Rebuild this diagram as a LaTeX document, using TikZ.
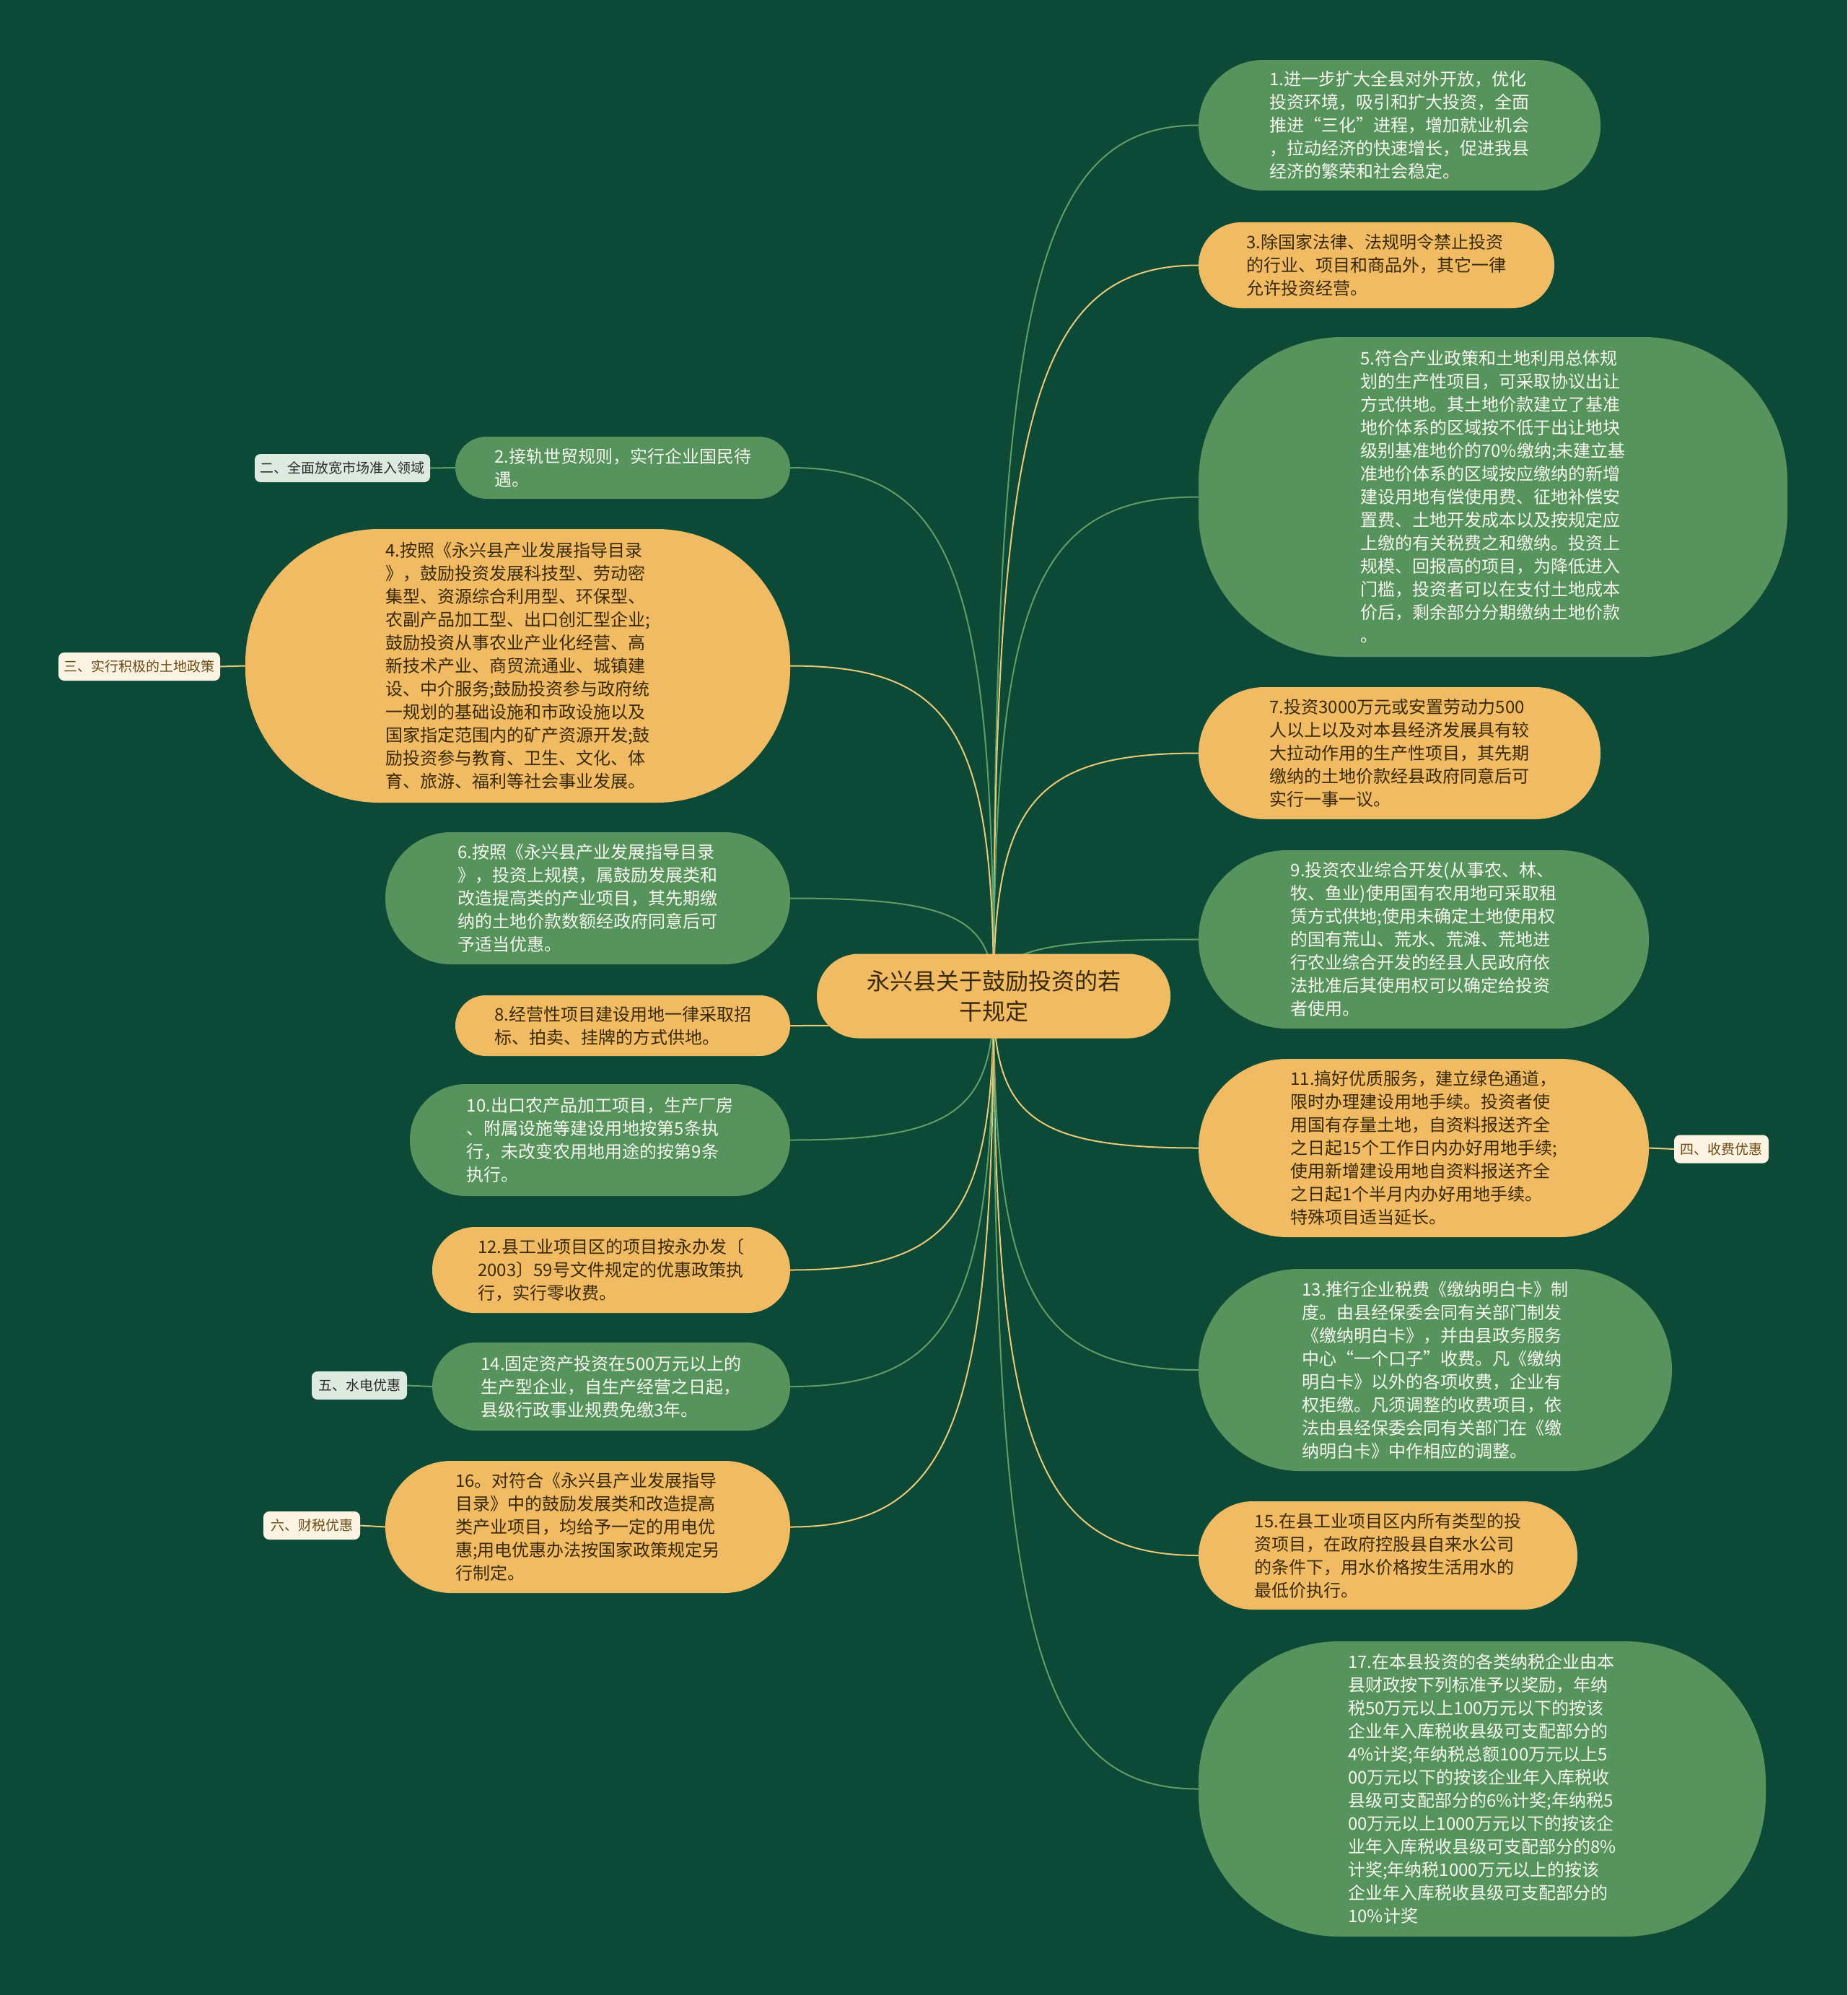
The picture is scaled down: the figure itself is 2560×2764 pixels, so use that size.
\documentclass[tikz,border=0pt]{standalone}
\usepackage{fontspec}
\setmainfont{Noto Sans CJK SC}
\usetikzlibrary{calc}
\definecolor{cbg}{HTML}{0C4A37}
\definecolor{cgreen}{HTML}{56935D}
\definecolor{cyellow}{HTML}{F0BB62}
\definecolor{gtext}{HTML}{F6F6EE}
\definecolor{ytext}{HTML}{3A2A0C}
\definecolor{glinec}{HTML}{5E9E67}
\definecolor{ylinec}{HTML}{E9C878}
\definecolor{lcream}{HTML}{FCF4E3}
\definecolor{lgreen}{HTML}{DCEAE0}
\definecolor{lbrown}{HTML}{6B4A16}
\definecolor{ldark}{HTML}{2A2A2A}
\pgfdeclarelayer{bg}
\pgfdeclarelayer{edges}
\pgfsetlayers{bg,edges,main}
\tikzset{
  bub/.style n args={3}{minimum width=#1pt, minimum height=#2pt, rounded corners=#3pt},
  gnode/.style={fill=cgreen, text=gtext, align=left, inner sep=0pt, font=\fontsize{24}{32}\selectfont},
  ynode/.style={fill=cyellow, text=ytext, align=left, inner sep=0pt, font=\fontsize{24}{32}\selectfont},
  rootnode/.style={fill=cyellow, text=ytext, align=center, inner sep=0pt, font=\fontsize{32}{42}\selectfont, minimum width=490pt, minimum height=117pt, rounded corners=58pt},
  clabel/.style={fill=lcream, text=lbrown, inner sep=0pt, font=\fontsize{19}{24}\selectfont, rounded corners=8pt, minimum height=39pt},
  glabel/.style={fill=lgreen, text=ldark, inner sep=0pt, font=\fontsize{19}{24}\selectfont, rounded corners=8pt, minimum height=39pt},
  gline/.style={draw=glinec, line width=2pt},
  yline/.style={draw=ylinec, line width=2pt},
}
\newcommand\mmconn[3]{\draw[#1] (root.center) .. controls ($(root.center)!0.8!(root.center |- #2.#3)$) and ($(root.center |- #2.#3)!0.2!(#2.#3)$) .. (#2.#3);}
\begin{document}
\begin{tikzpicture}[x=1pt,y=-1pt]
\begin{pgfonlayer}{bg}
\fill[cbg] (0,0) rectangle (2560,2764);
\end{pgfonlayer}
\useasboundingbox (0,0) rectangle (2560,2764);

% root
\node[rootnode] (root) at (1377,1380) {永兴县关于鼓励投资的若\\干规定};

% right side
\node[gnode, bub={557}{181}{90}] (n1) at (1939.5,173.5) {1.进一步扩大全县对外开放，优化\\投资环境，吸引和扩大投资，全面\\推进“三化”进程，增加就业机会\\，拉动经济的快速增长，促进我县\\经济的繁荣和社会稳定。};
\node[ynode, bub={493}{119}{59}] (n3) at (1907.5,367.5) {3.除国家法律、法规明令禁止投资\\的行业、项目和商品外，其它一律\\允许投资经营。};
\node[gnode, bub={816}{443}{200}] (n5) at (2069,688.5) {5.符合产业政策和土地利用总体规\\划的生产性项目，可采取协议出让\\方式供地。其土地价款建立了基准\\地价体系的区域按不低于出让地块\\级别基准地价的70\%缴纳;未建立基\\准地价体系的区域按应缴纳的新增\\建设用地有偿使用费、征地补偿安\\置费、土地开发成本以及按规定应\\上缴的有关税费之和缴纳。投资上\\规模、回报高的项目，为降低进入\\门槛，投资者可以在支付土地成本\\价后，剩余部分分期缴纳土地价款\\。};
\node[ynode, bub={557}{183}{91}] (n7) at (1939.5,1043.5) {7.投资3000万元或安置劳动力500\\人以上以及对本县经济发展具有较\\大拉动作用的生产性项目，其先期\\缴纳的土地价款经县政府同意后可\\实行一事一议。};
\node[gnode, bub={624}{247}{123}] (n9) at (1973,1301.5) {9.投资农业综合开发(从事农、林、\\牧、鱼业)使用国有农用地可采取租\\赁方式供地;使用未确定土地使用权\\的国有荒山、荒水、荒滩、荒地进\\行农业综合开发的经县人民政府依\\法批准后其使用权可以确定给投资\\者使用。};
\node[ynode, bub={624}{247}{123}] (n11) at (1973,1590.5) {11.搞好优质服务，建立绿色通道，\\限时办理建设用地手续。投资者使\\用国有存量土地，自资料报送齐全\\之日起15个工作日内办好用地手续;\\使用新增建设用地自资料报送齐全\\之日起1个半月内办好用地手续。\\特殊项目适当延长。};
\node[clabel, minimum width=131pt] (l4) at (2385.5,1592) {四、收费优惠};
\node[gnode, bub={656}{280}{140}] (n13) at (1989,1898) {13.推行企业税费《缴纳明白卡》制\\度。由县经保委会同有关部门制发\\《缴纳明白卡》，并由县政务服务\\中心“一个口子”收费。凡《缴纳\\明白卡》以外的各项收费，企业有\\权拒缴。凡须调整的收费项目，依\\法由县经保委会同有关部门在《缴\\纳明白卡》中作相应的调整。};
\node[ynode, bub={525}{150}{75}] (n15) at (1923.5,2155) {15.在县工业项目区内所有类型的投\\资项目，在政府控股县自来水公司\\的条件下，用水价格按生活用水的\\最低价执行。};
\node[gnode, bub={786}{409}{195}] (n17) at (2054,2478.5) {17.在本县投资的各类纳税企业由本\\县财政按下列标准予以奖励，年纳\\税50万元以上100万元以下的按该\\企业年入库税收县级可支配部分的\\4\%计奖;年纳税总额100万元以上5\\00万元以下的按该企业年入库税收\\县级可支配部分的6\%计奖;年纳税5\\00万元以上1000万元以下的按该企\\业年入库税收县级可支配部分的8\%\\计奖;年纳税1000万元以上的按该\\企业年入库税收县级可支配部分的\\10\%计奖};

% left side
\node[gnode, bub={464}{86}{43}] (n2) at (863,648) {2.接轨世贸规则，实行企业国民待\\遇。};
\node[glabel, minimum width=243pt] (l2) at (474.5,648.5) {二、全面放宽市场准入领域};
\node[ynode, bub={755}{379}{185}] (n4) at (717.5,922.5) {4.按照《永兴县产业发展指导目录\\》，鼓励投资发展科技型、劳动密\\集型、资源综合利用型、环保型、\\农副产品加工型、出口创汇型企业;\\鼓励投资从事农业产业化经营、高\\新技术产业、商贸流通业、城镇建\\设、中介服务;鼓励投资参与政府统\\一规划的基础设施和市政设施以及\\国家指定范围内的矿产资源开发;鼓\\励投资参与教育、卫生、文化、体\\育、旅游、福利等社会事业发展。};
\node[clabel, minimum width=224pt] (l3) at (193,923.5) {三、实行积极的土地政策};
\node[gnode, bub={561}{183}{91}] (n6) at (814.5,1244.5) {6.按照《永兴县产业发展指导目录\\》，投资上规模，属鼓励发展类和\\改造提高类的产业项目，其先期缴\\纳的土地价款数额经政府同意后可\\予适当优惠。};
\node[ynode, bub={464}{84}{42}] (n8) at (863,1421) {8.经营性项目建设用地一律采取招\\标、拍卖、挂牌的方式供地。};
\node[gnode, bub={527}{155}{77}] (n10) at (831.5,1579.5) {10.出口农产品加工项目，生产厂房\\、附属设施等建设用地按第5条执\\行，未改变农用地用途的按第9条\\执行。};
\node[ynode, bub={496}{119}{59}] (n12) at (847,1759.5) {12.县工业项目区的项目按永办发〔\\2003〕59号文件规定的优惠政策执\\行，实行零收费。};
\node[gnode, bub={496}{122}{61}] (n14) at (847,1921) {14.固定资产投资在500万元以上的\\生产型企业，自生产经营之日起，\\县级行政事业规费免缴3年。};
\node[glabel, minimum width=132pt] (l5) at (498,1919.5) {五、水电优惠};
\node[ynode, bub={561}{183}{91}] (n16) at (814.5,2115.5) {16。对符合《永兴县产业发展指导\\目录》中的鼓励发展类和改造提高\\类产业项目，均给予一定的用电优\\惠;用电优惠办法按国家政策规定另\\行制定。};
\node[clabel, minimum width=134pt] (l6) at (432,2113.5) {六、财税优惠};

\begin{pgfonlayer}{edges}
% right connectors
\mmconn{gline}{n1}{west}
\mmconn{yline}{n3}{west}
\mmconn{gline}{n5}{west}
\mmconn{yline}{n7}{west}
\mmconn{gline}{n9}{west}
\mmconn{yline}{n11}{west}
\mmconn{gline}{n13}{west}
\mmconn{yline}{n15}{west}
\mmconn{gline}{n17}{west}
% left connectors
\mmconn{gline}{n2}{east}
\mmconn{yline}{n4}{east}
\mmconn{gline}{n6}{east}
\mmconn{yline}{n8}{east}
\mmconn{gline}{n10}{east}
\mmconn{yline}{n12}{east}
\mmconn{gline}{n14}{east}
\mmconn{yline}{n16}{east}
% label connectors
\draw[gline] (l2.east) -- (n2.west);
\draw[yline] (l3.east) -- (n4.west);
\draw[yline] (n11.east) -- (l4.west);
\draw[gline] (l5.east) -- (n14.west);
\draw[yline] (l6.east) -- (n16.west);
\end{pgfonlayer}
\end{tikzpicture}
\end{document}
